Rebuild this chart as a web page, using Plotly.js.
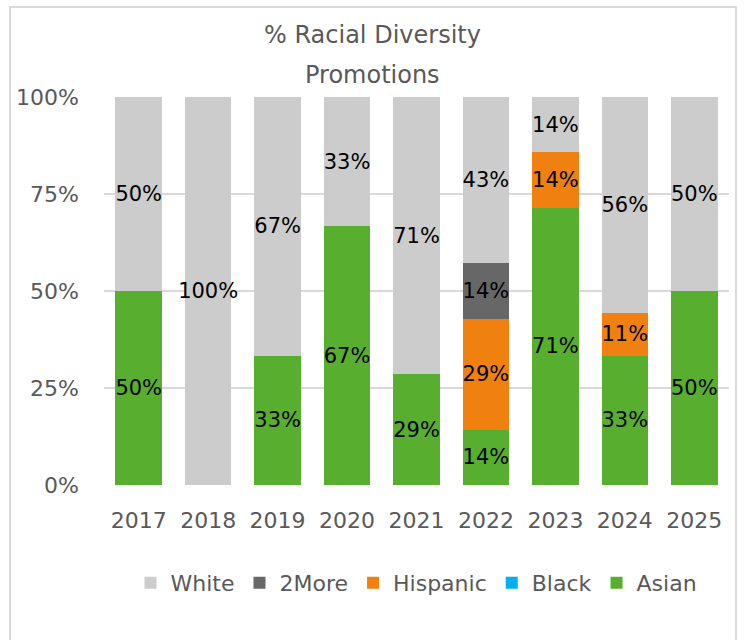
<!DOCTYPE html>
<html>
<head>
<meta charset="utf-8">
<script src="https://cdn.plot.ly/plotly-3.0.1.min.js"></script>
<style>
  body { margin: 0; background: #fff; }
  #wrap { position: relative; width: 744px; height: 640px; overflow: hidden; }
  #chart { position: absolute; left: 0; top: 0; width: 744px; height: 640px; }
  #frame { position: absolute; left: 9px; top: 6px; width: 724px; height: 700px;
           border: 2px solid #d9d9d9; pointer-events: none; }
</style>
</head>
<body>
<div id="wrap">
  <div id="chart"></div>
  <div id="frame"></div>
</div>
<script>
const years = ["2017", "2018", "2019", "2020", "2021", "2022", "2023", "2024", "2025"];

// percent of promotions per group, null where the group had none
const asian    = [50, null, 33.3, 66.7, 28.6, 14.3, 71.4, 33.3, 50];
const black    = [null, null, null, null, null, null, null, null, null];
const hispanic = [null, null, null, null, null, 28.6, 14.3, 11.1, null];
const twoMore  = [null, null, null, null, null, 14.3, null, null, null];
const white    = [50, 100, 66.7, 33.3, 71.4, 42.9, 14.3, 55.6, 50];

const yTicks = [0, 25, 50, 75, 100];
const yTickText = ["0%", "25%", "50%", "75%", "100%"];

const fontFamily = '"DejaVu Sans", sans-serif';
const grey = '#595959';

function series(name, values, color) {
    return {
        type: 'bar',
        name: name,
        x: years,
        y: values,
        marker: { color: color },
        texttemplate: '%{y:.0f}%',
        textposition: 'inside',
        insidetextanchor: 'middle',
        constraintext: 'none',
        textangle: 0,
        textfont: { family: fontFamily, size: 21, color: '#000000' },
        hoverinfo: 'none'
    };
}

// bottom to top
const traces = [
    series('Asian', asian, '#58ae2e'),
    series('Black', black, '#00b0f0'),
    series('Hispanic', hispanic, '#f0800f'),
    series('2More', twoMore, '#676767'),
    series('White', white, '#cccccc')
];

const layout = {
    width: 744,
    height: 640,
    barmode: 'stack',
    bargap: 0.33,
    paper_bgcolor: '#ffffff',
    plot_bgcolor: '#ffffff',
    margin: { l: 104, r: 15, t: 97, b: 155 },
    font: { family: fontFamily, color: grey, size: 20 },
    // two title lines as annotations so the spacing can be matched
    annotations: [
        { text: '% Racial Diversity', xref: 'paper', yref: 'paper', x: 0.4288, y: 1.1598,
          xanchor: 'center', yanchor: 'middle', showarrow: false,
          font: { family: fontFamily, size: 24, color: grey } },
        { text: 'Promotions', xref: 'paper', yref: 'paper', x: 0.4288, y: 1.0567,
          xanchor: 'center', yanchor: 'middle', showarrow: false,
          font: { family: fontFamily, size: 24, color: grey } }
    ],
    xaxis: {
        type: 'category',
        tickfont: { size: 22, color: grey },
        ticks: '',
        showline: false,
        showgrid: false,
        ticklabelstandoff: 20
    },
    yaxis: {
        range: [0, 100],
        tickmode: 'array',
        tickvals: yTicks,
        ticktext: yTickText,
        tickfont: { size: 22, color: grey },
        showgrid: true,
        gridcolor: '#d9d9d9',
        gridwidth: 1.5,
        zeroline: false,
        showline: false,
        ticks: '',
        ticklabelstandoff: 24
    },
    legend: {
        orientation: 'h',
        traceorder: 'reversed',
        x: 0.5, xanchor: 'center',
        y: -0.2526, yanchor: 'middle',
        font: { size: 22, color: grey },
        itemclick: false
    },
    showlegend: true,
    hovermode: false
};

Plotly.newPlot('chart', traces, layout, { displayModeBar: false, staticPlot: true });
</script>
</body>
</html>
